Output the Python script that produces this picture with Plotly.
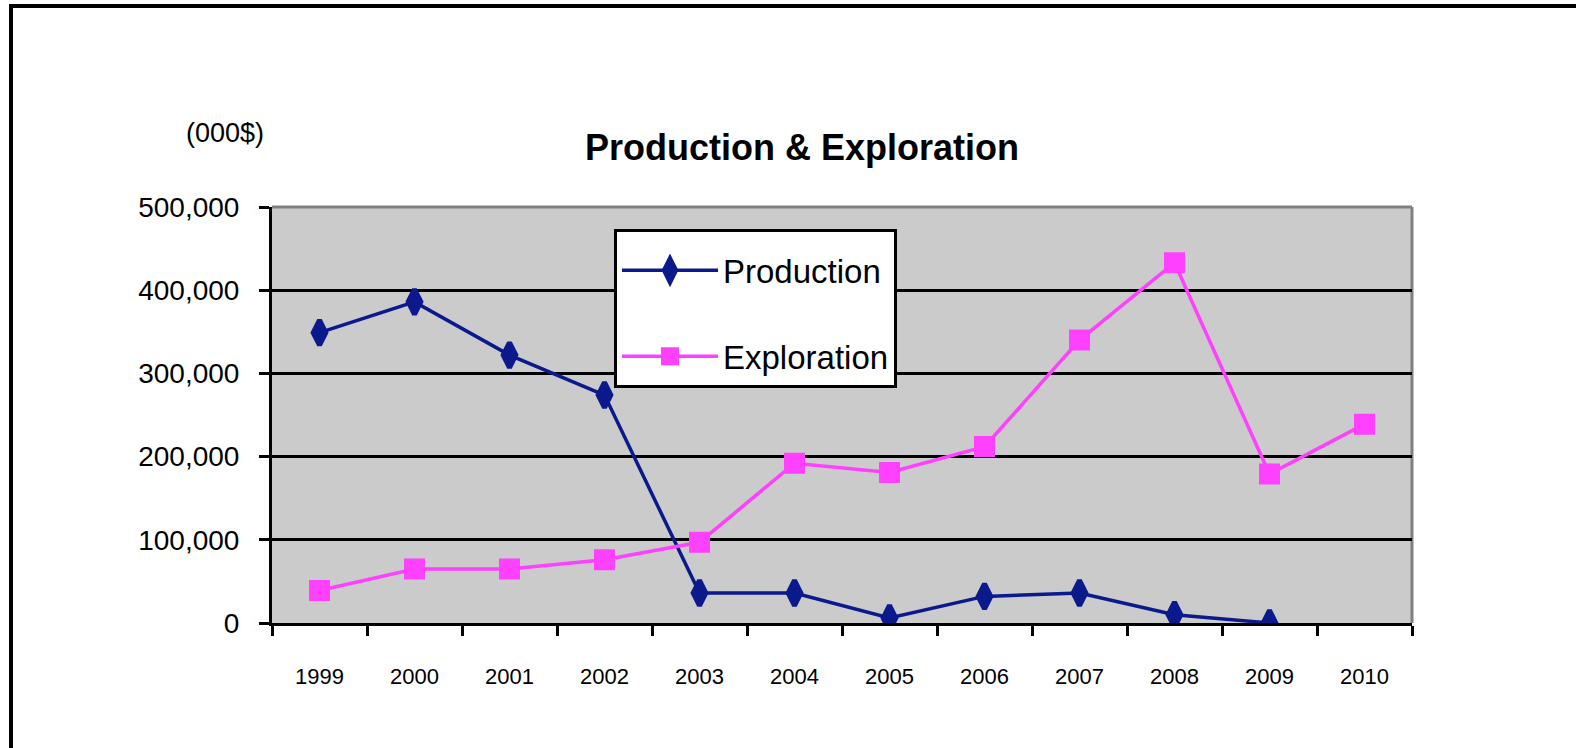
import plotly.graph_objects as go

years = ["1999", "2000", "2001", "2002", "2003", "2004", "2005", "2006", "2007", "2008", "2009", "2010"]
production = [349000, 386000, 322000, 274000, 36000, 36000, 6000, 32000, 36000, 10000, 0, None]
exploration = [39000, 65000, 65000, 76000, 97000, 192000, 181000, 212000, 340000, 433000, 179000, 239000]
y_ticks = [0, 100000, 200000, 300000, 400000, 500000]

W, H = 1576, 748
L, R, T, B = 272, 1412, 207, 623

def px_x(p):
    return (p - L) / (R - L)

def px_y(p):
    return (B - p) / (B - T)

FONT = "Liberation Sans, Arial, sans-serif"

fig = go.Figure()
fig.add_trace(go.Scatter(
    x=years, y=production, name="Production", mode="lines+markers",
    line=dict(color="#0A1A8C", width=3.5),
    marker=dict(symbol="diamond-tall", size=18, color="#0A1A8C",
                line=dict(color="#0A1A8C", width=5)),
    legendgroup="a", connectgaps=False,
))
fig.add_trace(go.Scatter(
    x=years, y=exploration, name="Exploration", mode="lines+markers",
    line=dict(color="#FF40FF", width=3.5),
    marker=dict(symbol="square", size=19, color="#FF40FF",
                line=dict(color="#FF40FF", width=2)),
    legendgroup="b",
))

shapes = [
    # outer frame (top and left)
    dict(type="line", xref="paper", yref="paper", x0=px_x(9), x1=px_x(1580),
         y0=px_y(6), y1=px_y(6), line=dict(color="black", width=4), layer="above"),
    dict(type="line", xref="paper", yref="paper", x0=px_x(11), x1=px_x(11),
         y0=px_y(4), y1=px_y(760), line=dict(color="black", width=4), layer="above"),
    # gray plot border top / right
    dict(type="line", xref="paper", yref="paper", x0=0, x1=1, y0=1, y1=1,
         line=dict(color="#808080", width=3), layer="between"),
    dict(type="line", xref="paper", yref="paper", x0=1, x1=1, y0=0, y1=1,
         line=dict(color="#808080", width=3), layer="between"),
]

annotations = [
    dict(text="<b>Production &amp; Exploration</b>", xref="paper", yref="paper",
         x=px_x(802), y=px_y(147), xanchor="center", yanchor="middle",
         showarrow=False, font=dict(family=FONT, size=36, color="black")),
    dict(text="(000$)", xref="paper", yref="paper",
         x=px_x(225), y=px_y(133), xanchor="center", yanchor="middle",
         showarrow=False, font=dict(family=FONT, size=27, color="black")),
]

fig.update_layout(
    width=W, height=H,
    margin=dict(l=L, r=W - R, t=T, b=H - B, pad=0),
    paper_bgcolor="white", plot_bgcolor="#CBCBCB",
    showlegend=True,
    legend=dict(x=px_x(614), y=px_y(229), xanchor="left", yanchor="top",
                bgcolor="white", bordercolor="black", borderwidth=3,
                font=dict(family=FONT, size=33, color="black"),
                title=dict(text=" ", font=dict(family=FONT, size=8)),
                tracegroupgap=40, itemwidth=96, traceorder="grouped"),
    shapes=shapes, annotations=annotations,
    xaxis=dict(type="category", categoryorder="array", categoryarray=years,
               tickmode="array", tickvals=years, ticktext=years,
               showgrid=False, showline=True, linecolor="black", linewidth=3,
               ticks="outside", ticklen=10, tickwidth=3, tickcolor="black",
               tickson="boundaries", ticklabelstandoff=32,
               tickfont=dict(family=FONT, size=22, color="black"),
               zeroline=False, range=[-0.5, 11.5]),
    yaxis=dict(range=[0, 500000], tickmode="array", tickvals=y_ticks,
               tickformat=",d", showgrid=True, gridcolor="black", gridwidth=3,
               showline=True, linecolor="black", linewidth=3,
               ticks="outside", ticklen=10, tickwidth=3, tickcolor="black",
               ticklabelstandoff=14, zeroline=False,
               tickfont=dict(family=FONT, size=28, color="black")),
)

fig.write_html("out.html", config={"displayModeBar": False},
               post_script="document.body.style.margin='0';document.body.style.overflow='hidden';")
